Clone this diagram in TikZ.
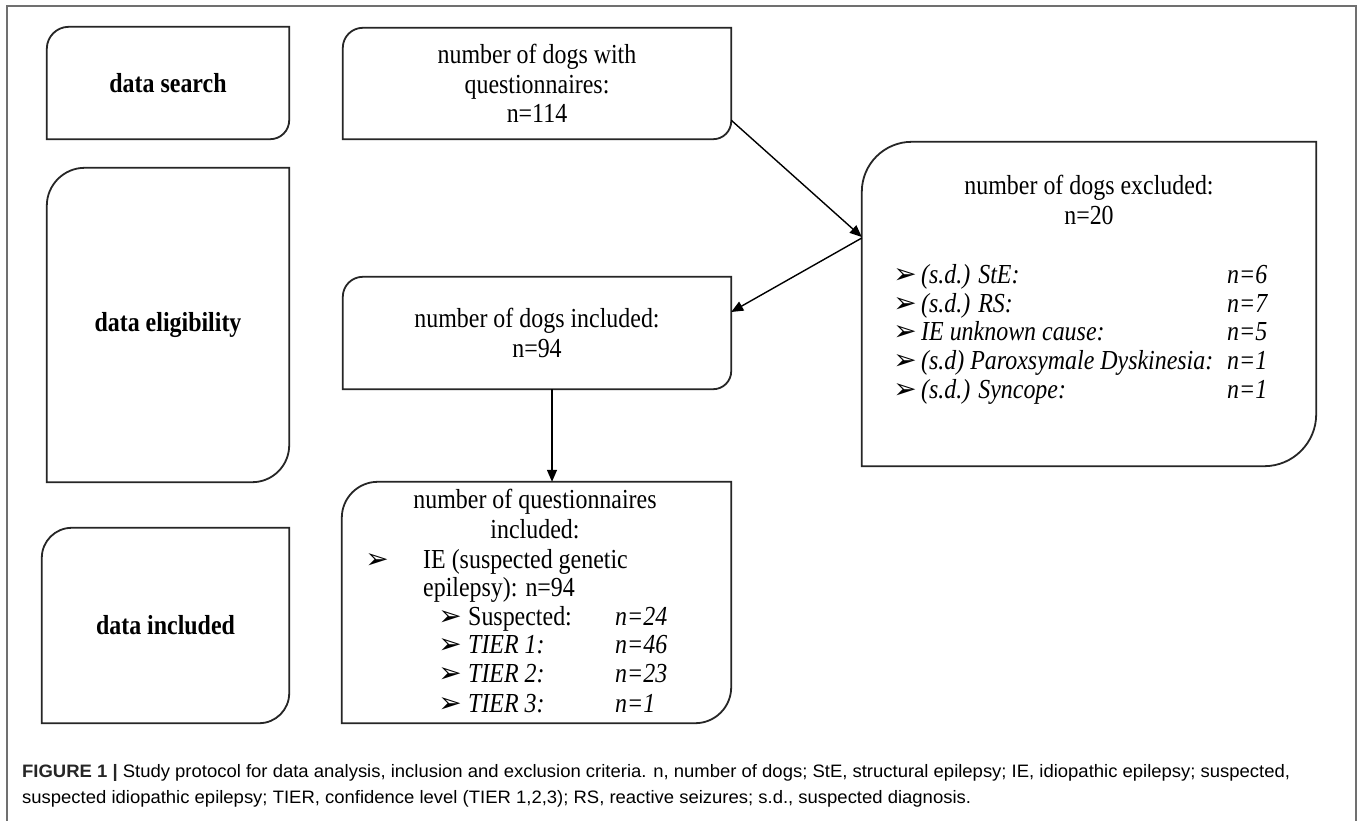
\documentclass[tikz,border=0pt]{standalone}
\usepackage{fontspec}
\setmainfont{Liberation Serif}[FakeStretch=0.87]
\newfontfamily\dejavu{DejaVu Sans}
\newfontfamily\capfont{Liberation Sans}
\usetikzlibrary{arrows.meta}
\definecolor{captxt}{HTML}{3A3A3A}
\definecolor{framegray}{HTML}{707070}
\newcommand\diagoutline[3]{\draw[boxline] ([yshift=-#2pt]#1.north west) arc[start angle=180,end angle=90,radius=#2pt] -- (#1.north east) -- ([yshift=#3pt]#1.south east) arc[start angle=0,end angle=-90,radius=#3pt] -- (#1.south west) -- cycle;}
\newsavebox\capA
\newsavebox\capB
\newlength\capw
\tikzset{
  boxline/.style={draw=black!85, line width=1.8pt},
  boxnode/.style={inner sep=0pt, align=center, font=\fontsize{27.5}{29.5}\selectfont},
  ltxt/.style={inner sep=0pt, anchor=base west, font=\fontsize{27.5}{29}\selectfont},
  ctxt/.style={inner sep=0pt, anchor=base, font=\fontsize{27.5}{29}\selectfont},
  bul/.style={inner sep=0pt, anchor=base, font=\dejavu\fontsize{28}{28}\selectfont},
  arr/.style={line width=1.4pt, -{Triangle[length=12pt,width=10pt]}},
  framebox/.style={draw=framegray, line width=1.6pt},
  captionline/.style={inner sep=0pt, anchor=base west, text=captxt}
}
\begin{document}
\sbox\capA{\capfont\fontsize{18}{20}\selectfont{\bfseries\color{black!85}FIGURE 1 |} Study protocol for data analysis, inclusion and exclusion criteria. n, number of dogs; StE, structural epilepsy; IE, idiopathic epilepsy; suspected,}%
\sbox\capB{\capfont\fontsize{18}{20}\selectfont suspected idiopathic epilepsy; TIER, confidence level (TIER 1,2,3); RS, reactive seizures; s.d., suspected diagnosis.}%
\setlength\capw{\wd\capA}%
\pgfmathsetmacro\capfac{1268/\capw}%
\begin{tikzpicture}[x=1pt,y=1pt]
\useasboundingbox (0,0) rectangle (1362,-821);
\fill[white] (0,0) rectangle (1362,-821);
\clip (0,0) rectangle (1362,-821);
\draw[framebox] (7,-6) rectangle (1356,-840);

% left column
\node[boxnode, minimum width=242pt, minimum height=112pt] (ds) at (168,-83) {\bfseries data search};
\node[boxnode, minimum width=242pt, minimum height=314pt] (de) at (168,-325) {\bfseries data eligibility};
\node[boxnode, minimum width=247pt, minimum height=195pt] (di) at (165.5,-625.5) {\bfseries data included};
\diagoutline{ds}{22}{19}
\diagoutline{de}{38}{37}
\diagoutline{di}{30}{30}

% middle column
\node[boxnode, minimum width=388pt, minimum height=111pt] (qw) at (537,-83.5) {number of dogs with\\questionnaires:\\n=114};
\node[boxnode, minimum width=388pt, minimum height=112pt] (inc) at (537,-333) {number of dogs included:\\n=94};
\node[boxnode, minimum width=389pt, minimum height=241pt] (qi) at (536.5,-602.5) {};
\diagoutline{qw}{20}{18}
\diagoutline{inc}{20}{18}
\diagoutline{qi}{36}{36}

% excluded box
\node[boxnode, minimum width=454pt, minimum height=324pt] (ex) at (1089,-304) {};
\diagoutline{ex}{50}{52}
\node[ctxt] (ext1) at (1089,-195) {number of dogs excluded:};
\node[ctxt] (ext2) at (1089,-224) {n=20};
\foreach \yy/\lab/\num [count=\i] in {283/{(s.d.) StE:}/6, 312/{(s.d.) RS:}/7, 340/{IE unknown cause:}/5, 369/{(s.d) Paroxsymale Dyskinesia:}/1, 398/{(s.d.) Syncope:}/1}{
  \node[bul] (exb\i) at (905,-\yy) {➢};
  \node[ltxt] (exl\i) at (921,-\yy) {\itshape \lab};
  \node[ltxt] (exn\i) at (1227,-\yy) {\itshape n=\num};
}

% questionnaires included content
\node[ctxt] (qit1) at (535,-508) {number of questionnaires};
\node[ctxt] (qit2) at (535,-538) {included:};
\node[bul] (qib0) at (377,-568) {➢};
\node[ltxt] (qil0) at (423,-568) {IE (suspected genetic};
\node[ltxt] (qil00) at (423,-596) {epilepsy): n=94};
\node[bul] (qib1) at (450,-625) {➢};
\node[ltxt] (qil1) at (468,-625) {Suspected:};
\node[ltxt] (qin1) at (615,-625) {\itshape n=24};
\foreach \yy/\lab/\num [count=\i from 2] in {653/{TIER 1:}/46, 682/{TIER 2:}/23, 712/{TIER 3:}/1}{
  \node[bul] (qib\i) at (450,-\yy) {➢};
  \node[ltxt] (qil\i) at (468,-\yy) {\itshape \lab};
  \node[ltxt] (qin\i) at (615,-\yy) {\itshape n=\num};
}

% connectors
\draw[arr] ([yshift=19pt]qw.south east) -- ([yshift=67pt]ex.west);
\draw[arr] ([yshift=66pt]ex.west) -- ([yshift=21pt]inc.east);
\draw[arr] ([xshift=15pt]inc.south) -- ([xshift=15.5pt]qi.north);

% caption
\node[captionline] (cap1) at (22,-777.5) {\scalebox{\capfac}[1]{\usebox\capA}};
\node[captionline] (cap2) at (22,-803) {\scalebox{\capfac}[1]{\usebox\capB}};
\end{tikzpicture}
\end{document}
